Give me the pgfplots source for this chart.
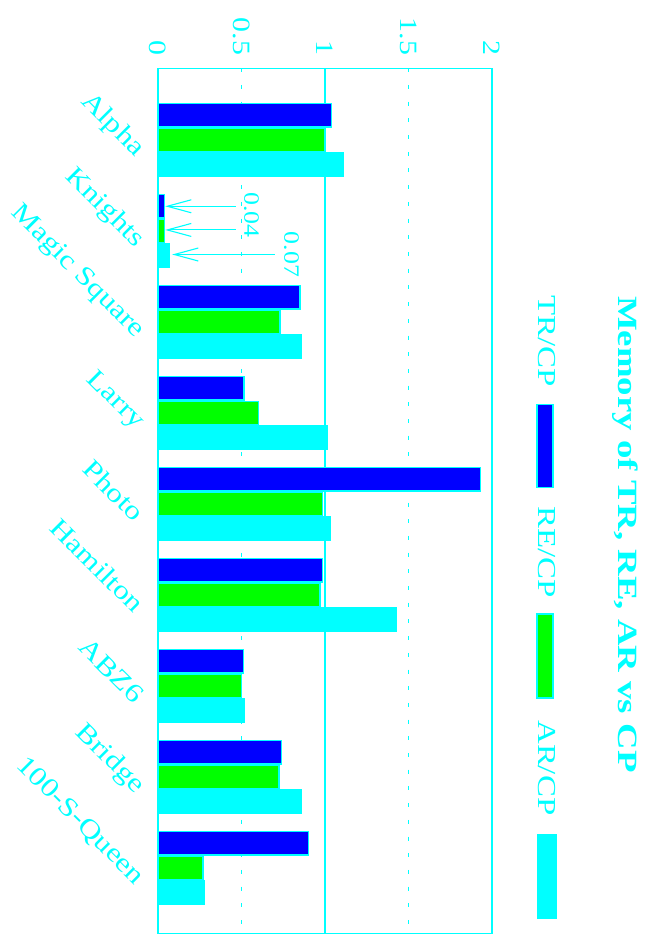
\documentclass[border=0pt]{standalone}
\usepackage{fontspec}
\setmainfont{Liberation Serif}
\usepackage{pgfplots}
\pgfplotsset{compat=1.18}
\usetikzlibrary{arrows.meta}
\definecolor{cy}{RGB}{0,255,255}
\definecolor{bl}{RGB}{0,0,255}
\definecolor{gr}{RGB}{0,255,0}
\begin{document}
\begin{tikzpicture}
\begin{axis}[
  scale only axis, width=334bp, height=865bp,
  xmin=0, xmax=2, ymin=-0.786, ymax=8.718, y dir=reverse,
  xtick={0,0.5,1,1.5,2}, xticklabel pos=right,
  /pgf/number format/assume math mode=true,
  ytick={0,...,8},
  yticklabels={Alpha,Knights,Magic Square,Larry,Photo,Hamilton,ABZ6,Bridge,100-S-Queen},
  axis line style={cy, line width=1.3bp},
  tick style={draw=none},
  xmajorgrids,
  major grid style={cy, line width=1.3bp, dash pattern=on 4bp off 12.7bp},
  extra x ticks={1}, extra x tick labels={},
  extra x tick style={grid=major, major grid style={cy, solid, line width=2.2bp}},
  x tick label style={font=\fontsize{25}{25}\selectfont, text=cy, inner sep=0pt,
     yshift=13bp, rotate=-90, xscale=1.2, anchor=east},
  y tick label style={font=\fontsize{26.5}{26.5}\selectfont, text=cy, inner sep=0pt,
     xshift=-18bp, yshift=-13bp, rotate=-45, xscale=1.2, anchor=east},
  clip=false,
]
\addplot[xbar, bar width=0.255, bar shift=-0.27, fill=bl, draw=cy, line width=1.3bp]
  coordinates {(1.04,0) (0.04,1) (0.85,2) (0.515,3) (1.93,4) (0.985,5) (0.51,6) (0.74,7) (0.90,8)};
\addplot[xbar, bar width=0.255, bar shift=0, fill=gr, draw=cy, line width=1.3bp]
  coordinates {(1.00,0) (0.04,1) (0.73,2) (0.60,3) (0.985,4) (0.97,5) (0.50,6) (0.725,7) (0.27,8)};
\addplot[xbar, bar width=0.255, bar shift=0.27, fill=cy, draw=cy, line width=1.3bp]
  coordinates {(1.11,0) (0.07,1) (0.86,2) (1.015,3) (1.035,4) (1.425,5) (0.515,6) (0.86,7) (0.275,8)};

% annotations for Knights
\draw[cy, line width=1.1bp, -{Straight Barb[length=24bp,width=13bp]}] (axis cs:0.467,0.73) -- (axis cs:0.043,0.73);
\draw[cy, line width=1.1bp, -{Straight Barb[length=24bp,width=13bp]}] (axis cs:0.467,0.99) -- (axis cs:0.043,0.99);
\draw[cy, line width=1.1bp, -{Straight Barb[length=24bp,width=13bp]}] (axis cs:0.70,1.26) -- (axis cs:0.085,1.26);
\node[font=\fontsize{22}{22}\selectfont, text=cy, inner sep=0pt, rotate=-90, xscale=1.18] at (axis cs:0.56,0.824) {0.04};
\node[font=\fontsize{22}{22}\selectfont, text=cy, inner sep=0pt, rotate=-90, xscale=1.18] at (axis cs:0.80,1.26) {0.07};

% title
\node[font=\bfseries\fontsize{28}{28}\selectfont, text=cy, inner sep=0pt, rotate=-90, xscale=1.32, anchor=west]
  at (axis description cs:1.400,0.737) {Memory of TR, RE, AR vs CP};
% legend
\node[font=\fontsize{26}{26}\selectfont, text=cy, inner sep=0pt, rotate=-90, xscale=1.27, anchor=west]
  at (axis description cs:1.165,0.738) {TR/CP};
\draw[cy, line width=1.3bp, fill=bl] (axis description cs:1.135,0.611) rectangle (axis description cs:1.183,0.515);
\node[font=\fontsize{26}{26}\selectfont, text=cy, inner sep=0pt, rotate=-90, xscale=1.27, anchor=west]
  at (axis description cs:1.165,0.494) {RE/CP};
\draw[cy, line width=1.3bp, fill=gr] (axis description cs:1.135,0.369) rectangle (axis description cs:1.183,0.272);
\node[font=\fontsize{26}{26}\selectfont, text=cy, inner sep=0pt, rotate=-90, xscale=1.27, anchor=west]
  at (axis description cs:1.165,0.2466) {AR/CP};
\draw[cy, line width=1.3bp, fill=cy] (axis description cs:1.138,0.1137) rectangle (axis description cs:1.192,0.0177);

\coordinate (SW) at (axis description cs:0,0);
\end{axis}
\pgfresetboundingbox
\path[use as bounding box] ([xshift=-158bp,yshift=-8.7bp]SW) rectangle ([xshift=495bp,yshift=933.3bp]SW);
\end{tikzpicture}
\end{document}
